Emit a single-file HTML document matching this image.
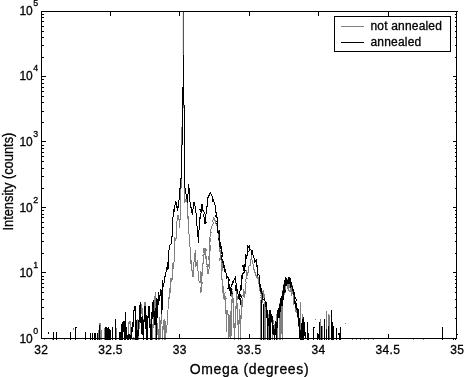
<!DOCTYPE html>
<html><head><meta charset="utf-8"><style>html,body{margin:0;padding:0;background:#fff;overflow:hidden}svg{display:block}</style></head>
<body><svg width="464" height="377" viewBox="0 0 464 377" shape-rendering="crispEdges">
<rect width="464" height="377" fill="#fff"/>
<g><path d="M73.5 328V330M99.5 323V340M100.5 323V340M98.5 330V340M101.5 330V340M104.5 328V340M116.5 328V340M300.5 301.5V340M302.8 314.4V340M315.7 319V320M320.5 319V340M322.3 326V340M326.2 310.5V340M328.1 313.8V340M329.5 315V340M345 323V324M352.5 338V340M356.5 338V340M360.5 338V340M364.5 338V340M368.5 338V340M373.5 338V340M413.5 338V340M423.5 338V340M44.5 338V340M52.5 338V340M64.5 338V340M260.5 300V340M264.5 302V340M265.8 306V340M268.6 315V340M272.3 321V340M277.3 318V340M279.3 308V340M282 296V340" fill="none" stroke="#808080" stroke-width="1"/><polyline points="127.5,339.5 127.7,339.5 127.9,339.5 128.1,333.4 128.3,329.31 128.5,326.72 128.7,328.49 128.9,323.73 129.1,320.89 129.3,324.2 129.5,322 130,322.4 130.5,322 130.55,325.24 130.6,322.46 130.65,326.82 130.7,328.21 130.75,325.48 130.8,333.21 130.85,334.16 130.9,339.5 130.95,337.01 131,339.5 131.55,337.57 132.1,339.5 132.65,339.5 133.2,339.5 133.75,336.9 134.3,339.5 134.85,339.5 135.4,339.5 135.95,339.5 136.5,339.5 136.56,333.17 136.62,336.17 136.68,333.48 136.73,333.83 136.79,330.73 136.85,331.76 136.91,326.76 136.97,325.94 137.02,325.75 137.08,318.91 137.14,319.38 137.2,319 137.27,319.08 137.33,328.11 137.4,323.47 137.47,327.29 137.53,328.77 137.6,327.66 137.67,325.43 137.73,334.56 137.8,332.03 137.87,336.99 137.93,332.5 138,339.5 138.16,335.14 138.32,339.5 138.48,337.66 138.64,327.91 138.8,326.27 138.95,328.59 139.11,329.37 139.27,326.12 139.43,325 139.59,319.58 139.75,322.76 139.91,322.81 140.07,316.6 140.23,312.06 140.39,312.54 140.55,315.56 140.7,306.53 140.86,309.91 141.02,305.66 141.18,306.7 141.34,304.81 141.5,304 141.61,305.6 141.72,311.61 141.83,309.93 141.94,314.22 142.06,311.35 142.17,311.89 142.28,316.03 142.39,307.94 142.5,318 142.58,319.42 142.65,321.56 142.73,318.91 142.81,325.55 142.88,324.01 142.96,319.85 143.04,328.13 143.12,327.37 143.19,330.28 143.27,332.93 143.35,339.5 143.42,336.77 143.5,339.5 143.54,336.38 143.59,336.09 143.63,327.95 143.67,335.56 143.72,327.07 143.76,330.08 143.8,323.85 143.85,322.76 143.89,322.96 143.93,328.3 143.98,323.16 144.02,317.72 144.07,317.14 144.11,313 144.15,314.81 144.2,311.65 144.24,314 144.28,306.22 144.33,307.75 144.37,304.69 144.41,303.52 144.46,306.27 144.5,302.6 145,302.98 145.5,302.6 145.54,305.89 145.59,309.25 145.63,310.67 145.67,304.64 145.72,311.91 145.76,306.55 145.8,313.18 145.85,320.67 145.89,315.87 145.93,316.88 145.98,320.04 146.02,321.12 146.07,322.69 146.11,321.88 146.15,328.93 146.2,329.89 146.24,328.13 146.28,331.25 146.33,333.82 146.37,336.48 146.41,336.1 146.46,339.5 146.5,339.5 146.62,335.69 146.74,331.74 146.86,331.94 146.98,334.96 147.1,333.31 147.21,329.3 147.33,325.63 147.45,326.73 147.57,329.28 147.69,326.83 147.81,319.19 147.93,319.58 148.05,313.84 148.17,313.26 148.29,315.71 148.4,313.69 148.52,314.99 148.64,314.37 148.76,311.55 148.88,311.48 149,306 149.07,305.88 149.14,305.66 149.21,312.07 149.29,320.13 149.36,314.69 149.43,311.69 149.5,317.39 149.57,322.47 149.64,316.61 149.71,323.65 149.79,320.93 149.86,328.1 149.93,328.17 150,328.25 150.07,334.86 150.14,329.15 150.21,329.85 150.29,339.5 150.36,332.32 150.43,339.5 150.5,339.5 150.56,336.38 150.62,331.89 150.69,333.49 150.75,332.39 150.81,331.1 150.88,328.42 150.94,330.74 151,319.04 151.06,322.84 151.12,322.21 151.19,326.96 151.25,314.02 151.31,317.48 151.38,313.57 151.44,313.51 151.5,314 151.53,317.42 151.56,318.23 151.59,322.82 151.62,318.2 151.66,322.31 151.69,326.52 151.72,327.21 151.75,324.99 151.78,330.88 151.81,326.23 151.84,335.91 151.88,332.46 151.91,333.16 151.94,335.81 151.97,339.5 152,339.5 152.12,339.5 152.23,334.51 152.35,332.3 152.47,333.63 152.58,327.72 152.7,323.71 152.82,329.77 152.93,324.6 153.05,327.58 153.17,319.59 153.28,312.44 153.4,320.45 153.52,318.53 153.63,321.33 153.75,316.58 153.87,314.39 153.98,313.69 154.1,309.3 154.22,309.1 154.33,303.28 154.45,307.36 154.57,301.85 154.68,301.4 154.8,303.3 154.92,302.41 155.03,295.11 155.15,302.61 155.27,293.29 155.38,296.04 155.5,292 155.52,296.39 155.53,295.74 155.55,297.12 155.57,303.52 155.58,302.34 155.6,302.54 155.62,297.26 155.63,302.03 155.65,309.29 155.67,307.92 155.68,306 155.7,308.47 155.72,311.01 155.73,315.52 155.75,316.16 155.77,319.53 155.78,315.62 155.8,322.56 155.82,319.63 155.83,321.77 155.85,329.4 155.87,325.96 155.88,326.85 155.9,328.17 155.92,329.18 155.93,336.54 155.95,337.53 155.97,337.08 155.98,337.02 156,339.5 156.19,339.5 156.38,334.52 156.56,334.48 156.75,332.71 156.94,330.14 157.12,333.2 157.31,331.89 157.5,325 157.62,330.6 157.75,322.51 157.88,335.38 158,333.61 158.12,331.77 158.25,334.68 158.38,339.5 158.5,339.5 158.58,339.5 158.67,337.57 158.75,333.92 158.83,332.11 158.92,333 159,328.73 159.08,324.81 159.17,324.13 159.25,324.08 159.33,324 159.42,328.29 159.5,320 159.54,317.39 159.58,324.43 159.62,324.23 159.67,326.9 159.71,331.56 159.75,332.72 159.79,330.03 159.83,330.33 159.88,329.41 159.92,334.79 159.96,339.5 160,339.5 160.08,335.65 160.17,337 160.25,335.46 160.33,332.97 160.42,333.47 160.5,328.33 160.58,324.62 160.67,322.04 160.75,326.78 160.83,321.36 160.92,319.96 161,321.84 161.08,315.41 161.17,321.53 161.25,316.67 161.33,311.53 161.42,309.65 161.5,310 161.56,314.8 161.61,309.56 161.67,312.74 161.72,316.24 161.78,318.39 161.83,319.38 161.89,322.05 161.94,321.35 162,323.64 162.06,329.35 162.11,329.05 162.17,327.32 162.22,335.37 162.28,325.81 162.33,333.59 162.39,336.89 162.44,339.5 162.5,339.5 162.6,336.74 162.7,333.65 162.8,334.96 162.9,331.02 163,331.42 163.1,319.83 163.2,327.94 163.3,322.83 163.4,326.42 163.5,322 163.6,325.84 163.7,327.39 163.8,325.59 163.9,329.7 164,328.97 164.1,332.24 164.2,332.79 164.3,332.19 164.4,339.5 164.5,339.5 164.54,339.5 164.58,328.83 164.62,336.18 164.67,327.82 164.71,329.8 164.75,327.25 164.79,325.9 164.83,326.72 164.88,323.52 164.92,318.65 164.96,321.48 165,320 165.04,322.59 165.08,328.31 165.12,323.26 165.17,322.43 165.21,326.36 165.25,330.96 165.29,327.85 165.33,329.84 165.38,335.16 165.42,334.97 165.46,337.17 165.5,339.5 165.7,334.51 165.9,332.32 166.1,332.23 166.3,331.14 166.5,330 166.62,327.46 166.73,328.22 166.85,327.03 166.96,325.49 167.08,323.75 167.19,318.11 167.31,315.87 167.42,320.1 167.54,316.19 167.65,314.98 167.77,309.6 167.88,310.9 168,310 168.14,306.56 168.29,304.35 168.43,303.53 168.58,299.41 168.72,302.62 168.87,304.33 169.01,297.18 169.16,298.06 169.3,292.97 169.44,296.74 169.59,298.79 169.73,287.97 169.88,289.46 170.02,292.88 170.17,288.19 170.31,285.9 170.46,277.9 170.6,282.5 171.1,280.22 171.6,281.59 172.1,277 172.24,279.67 172.38,275.65 172.51,270.35 172.65,268.39 172.79,263.36 172.92,263.95 173.06,268.9 173.2,263.9 174,262.5 174.03,260.66 174.07,255.48 174.1,261.96 174.13,251.48 174.17,258.78 174.2,252.53 174.23,253.02 174.27,252.54 174.3,249.78 174.33,251.17 174.37,246.04 174.4,243.61 174.43,241.23 174.47,237.75 174.5,240 175,237.6 175.5,241.09 176,238 176.05,238.4 176.1,238.09 176.15,239.45 176.2,233.31 176.25,231.25 176.3,225.9 176.35,226.57 176.4,225.5 176.62,227.98 176.84,223.08 177.06,220.15 177.28,219.24 177.5,217 178.05,214.74 178.6,219 178.8,219.22 179,220.01 179.2,220.07 179.4,227.4 179.6,227.6 179.67,227.94 179.75,224.12 179.82,223.54 179.9,219.49 179.97,220.56 180.05,219.5 180.12,219.19 180.2,217.59 180.28,214.25 180.35,211.72 180.43,209.1 180.5,207.89 180.58,208.08 180.65,206.42 180.73,204.09 180.8,202.5 180.82,203.12 180.85,200.3 180.87,198.02 180.89,196.28 180.91,195.09 180.94,192.44 180.96,190.94 180.98,190.87 181.01,188.4 181.03,187.23 181.05,187.19 181.07,184.32 181.1,184.22 181.12,181.49 181.14,181.33 181.17,178.9 181.19,175.53 181.21,176.51 181.23,173.84 181.26,170.99 181.28,171.09 181.3,169.61 181.33,167.08 181.35,166.08 181.37,165.37 181.39,164.43 181.42,162.73 181.44,161.26 181.46,159.68 181.49,156.03 181.51,155.58 181.53,154.61 181.55,151.53 181.58,151.91 181.6,150 181.63,148.94 181.65,146.59 181.68,145.27 181.71,143.5 181.74,142.42 181.76,140.89 181.79,139.39 181.82,137.45 181.85,136.52 181.87,134.71 181.9,133.7 181.93,131.94 181.95,129.76 181.98,128.27 182.01,127.3 182.04,125.59 182.06,124.4 182.09,122.99 182.12,121.22 182.15,119.18 182.17,117.83 182.2,116.83 182.23,114.86 182.25,113.94 182.28,112.1 182.31,110.74 182.34,108.87 182.36,107.55 182.39,105.35 182.42,104.5 182.45,103.16 182.47,101.32 182.5,100 182.57,98.32 182.65,96.99 182.72,95.51 182.8,93.84 182.88,92.63 182.95,90.7 183.03,89.7 183.1,88 183.11,86.26 183.12,84.86 183.14,83.71 183.15,81.84 183.16,80.25 183.17,79.01 183.19,77.37 183.2,75.84 183.21,74.4 183.22,72.9 183.24,71.37 183.25,69.87 183.26,68.7 183.28,66.92 183.29,65.61 183.3,63.84 183.31,62.56 183.32,60.86 183.34,59.45 183.35,58.07 183.36,56.45 183.38,54.81 183.39,53.45 183.4,51.99 183.41,50.55 183.43,48.91 183.44,47.47 183.45,46.01 183.46,44.37 183.47,42.99 183.49,41.44 183.5,40 183.5,38.53 183.5,36.99 183.5,35.49 183.5,33.84 183.5,32.49 183.5,30.98 183.5,29.44 183.5,27.97 183.5,26.43 183.5,25.01 183.5,23.54 183.5,22.03 183.5,20.47 183.5,19.09 183.5,17.54 183.5,15.95 183.5,14.49 183.5,12.92 183.5,11.5 183.5,12.99 183.5,14.53 183.5,16.06 183.5,17.48 183.5,18.91 183.5,20.49 183.5,22.07 183.5,23.51 183.5,25.07 183.5,26.55 183.5,28.09 183.5,29.54 183.5,30.96 183.5,32.53 183.5,34.17 183.5,35.46 183.5,36.87 183.5,38.65 183.5,40 183.51,41.53 183.52,42.95 183.53,44.45 183.54,45.87 183.55,47.56 183.56,49.01 183.57,50.44 183.58,51.96 183.59,53.46 183.6,55.1 183.61,56.48 183.62,58.14 183.63,59.41 183.64,60.93 183.65,62.45 183.66,63.94 183.67,65.49 183.68,67.12 183.69,68.65 183.7,69.86 183.71,71.67 183.72,73.01 183.73,74.72 183.74,75.98 183.75,77.38 183.76,79.12 183.77,80.6 183.78,81.93 183.79,83.5 183.8,85.02 183.81,86.55 183.82,87.7 183.83,89.28 183.84,91.01 183.85,92.55 183.86,93.9 183.87,95.15 183.88,97.27 183.89,98.44 183.9,100 183.92,101.28 183.94,103.39 183.96,104.81 183.98,106.31 184.01,107.78 184.03,109.23 184.05,110.35 184.07,112.13 184.09,113.73 184.11,115.33 184.13,116.8 184.15,117.88 184.18,119.51 184.2,121.11 184.22,122.66 184.24,123.95 184.26,125.14 184.28,126.85 184.3,128.9 184.32,130.3 184.35,132.04 184.37,132.6 184.39,134.68 184.41,136.73 184.43,137.06 184.45,138.93 184.47,140.17 184.49,142.97 184.52,143.95 184.54,145.18 184.56,147.04 184.58,148.44 184.6,150 184.61,151.98 184.62,153.64 184.63,155.01 184.65,156.2 184.66,157.95 184.67,159.49 184.68,161.23 184.69,160.82 184.7,163.73 184.71,165.05 184.73,166.61 184.74,167.82 184.75,169.45 184.76,171.37 184.77,172.65 184.78,174.1 184.79,174.63 184.81,175.95 184.82,177.86 184.83,178.43 184.84,181.03 184.85,182.21 184.86,182.79 184.87,184.1 184.89,187.03 184.9,188.4 184.91,192.8 184.92,192.94 184.93,192.63 184.94,194.43 184.95,195.31 184.97,197.05 184.98,199.07 184.99,200.94 185,202.5 185.38,200.08 185.75,200.26 186.12,198.4 186.5,196 186.6,199.95 186.7,197.58 186.8,201.66 186.9,201.91 187,201.84 187.1,205.18 187.2,204.87 187.3,208.76 187.4,214.51 187.5,212 187.67,215.74 187.83,218.32 188,219.02 188.17,215.98 188.33,221.07 188.5,222 188.6,223.83 188.7,225.97 188.8,224.61 188.9,224.17 189,234.26 189.1,233.97 189.2,233.62 189.3,234.5 189.39,234.89 189.48,238.04 189.57,236.06 189.66,243.16 189.75,242.68 189.84,243.39 189.93,244.15 190.02,246.71 190.11,248.84 190.2,250 190.32,250.29 190.45,255.89 190.57,255.13 190.7,255.72 190.82,254.91 190.95,262.65 191.07,264.39 191.2,262 191.4,265.67 191.6,259.67 191.8,265.75 192,271.38 192.2,270 192.4,271.61 192.6,276.83 192.8,273.18 193,276 193.11,276.83 193.22,274.46 193.33,263.99 193.44,268.56 193.56,267.51 193.67,264.79 193.78,262.43 193.89,268.32 194,262 194.25,259.87 194.5,260.82 194.75,252.66 195,254.9 195.14,250.25 195.29,256.65 195.43,260.88 195.57,259.07 195.71,264.42 195.86,266.82 196,266 196.4,262.99 196.8,262.49 197.2,261 197.32,260.34 197.43,267.34 197.55,270.96 197.67,268.69 197.78,267.23 197.9,268.18 198.02,271.01 198.13,276.07 198.25,272.68 198.37,280.94 198.48,274.38 198.6,279.6 199.3,282.5 199.8,281.23 200.3,280 201.57,285.51 201.18,281.9 201.6,292.27 201.27,279.67 201.3,287.8 200.69,293.31 200.23,287.3 201.07,287.71 202.21,283.75 200.9,271.36 200.93,279.08 201.37,276.41 201.72,278.88 202.5,270.49 202.12,275.29 202.3,270 202.75,269.34 201.89,265.52 202.54,267.1 203.41,259.89 203.13,263.8 203.07,258.74 203.64,261.33 203.5,258 203.04,253.81 203.78,255.59 203.06,255.4 204.89,253.9 204,252.25 204,247.7 203.73,251.53 205,250 206.66,250.42 205.16,248.6 205.88,257.72 206.7,257 206.18,256.8 206.63,265.05 206.06,260.67 207.29,265.31 208.4,266 206.88,266.46 207.8,264.46 207.9,269 207.63,274.36 208.8,271.8 208.79,269.53 208.41,270.72 209.49,268.15 209.03,265.58 209.51,266.02 208.59,266.41 209.17,264.8 209.05,256.17 209.33,254.35 208.18,259.63 209.6,255 210.12,249.92 210.2,251.03 209.75,246.42 209.33,241.16 210.63,249.46 209.93,250.37 209.79,241.87 210.89,237.64 209.59,244.24 209.39,244.27 209.77,239.5 210.56,232.46 211.1,232.38 210.5,231.5 210.5,232 210.91,229.15 211.66,227.03 211.5,226.5 211.88,226.1 213.36,223.1 212.26,220.48 212.85,221.56 213.2,218.6 213.76,216.9 214.5,221 214.55,220.3 215.8,221 215.62,223.03 216.12,223.85 217.3,226 217.53,231.13 218.27,230.8 218.5,231.8 218.59,235.03 218.93,236.83 219.23,230.88 219.79,235.18 219.4,240 219.26,242.14 218.29,236.4 219.43,241.48 220.93,242.39 219.78,249.19 219.71,246.48 220,251 219.89,251.86 220.8,253.91 220.61,250.43 219.81,260.59 220.56,258.29 221.51,257 221.1,262 221.84,262.52 221.05,266.23 221.05,267.36 222.18,263.08 222.08,270.6 222.07,265.57 221.5,272.5 221.64,276.56 221.89,269.3 221.88,275.25 221.62,279 222.34,280.02 222.5,282 222.61,288.23 222.14,292.75 223.77,287.14 223.2,289.4 223.71,286.2 223.12,293.61 224.56,293.22 223.94,294.11 224.64,298.27 223.17,292.28 224.2,300 224.43,293.98 225,296 225.66,299.38 226.23,298.22 225.48,300.4 225.64,304.23 225.8,303.7 225.84,302.97 225.88,309.29 225.92,306.18 225.96,313.37 226.01,314.02 226.05,318.59 226.09,313.25 226.13,312.59 226.17,320.11 226.21,320.12 226.25,319.13 226.29,318.25 226.34,326.21 226.38,319.51 226.42,325.51 226.46,331.66 226.5,330 226.54,327.7 226.58,328.3 226.62,326.86 226.65,325.63 226.69,325.48 226.73,322.73 226.77,318.11 226.81,314 226.85,315.3 226.88,312.64 226.92,314.29 226.96,315.23 227,310 227.5,314.5 228,314.3 228.07,313.72 228.13,317.93 228.2,318.86 228.27,318.94 228.33,325.77 228.4,325.22 228.47,325.98 228.53,322.74 228.6,320.04 228.67,327.23 228.73,334.37 228.8,331.82 228.87,333.9 228.93,334.7 229,337 229.07,336.87 229.14,333.83 229.21,337.43 229.29,330.35 229.36,328.35 229.43,331.83 229.5,328.25 229.57,326.52 229.64,324.44 229.71,321.17 229.79,320.67 229.86,319.75 229.93,316.89 230,315 230.07,310.93 230.14,322.27 230.21,318.27 230.29,319.58 230.36,321.83 230.43,322.26 230.5,323.37 230.57,327.32 230.64,331.8 230.71,329.83 230.79,333.7 230.86,329.8 230.93,337.69 231,337 231.04,332.05 231.08,336.02 231.12,330.15 231.17,329.03 231.21,325.52 231.25,323.94 231.29,325.54 231.33,321.74 231.38,322.46 231.42,324.99 231.46,317.51 231.5,317.55 231.54,316.65 231.58,313.56 231.62,313.78 231.67,313.03 231.71,313.92 231.75,307.07 231.79,307.06 231.83,305.68 231.88,308.28 231.92,300.08 231.96,302.05 232,300 232.49,300.63 231.66,294.51 232.1,289.41 231.66,292.52 232.7,291.6 232.86,295.66 232.52,293.95 232.73,297.62 232.68,299.25 232.06,302.44 233.1,297.58 233.17,307.73 233.23,307 233.3,310.32 233.37,304.56 233.43,310.65 233.5,310 233.56,314.5 233.61,315.74 233.67,313.95 233.72,320.41 233.78,318.75 233.83,315.11 233.89,327.89 233.94,322.38 234,327.27 234.06,322.92 234.11,323.7 234.17,330.65 234.22,331.97 234.28,328.77 234.33,333.24 234.39,330.01 234.44,329.33 234.5,337 234.57,339.5 234.65,330.44 234.72,334.54 234.8,333.95 234.88,330.3 234.95,332.18 235.03,327.15 235.1,325.38 235.17,322.94 235.25,322.64 235.32,320.87 235.4,315.44 235.47,316.54 235.55,314 235.62,322.09 235.7,312 235.83,314.08 235.96,306.43 236.09,308.99 236.22,300.34 236.35,304.17 236.48,307.85 236.61,301.05 236.52,303.05 237.09,298.97 237,296 236.57,290.93 236.61,304.72 237.17,304.17 237.22,307.23 237.28,303.46 237.33,308.12 237.39,307.73 237.44,306.36 237.5,311.42 237.56,312.49 237.61,309.74 237.67,312.89 237.72,311.7 237.78,316.25 237.83,318.66 237.89,317.36 237.94,316.22 238,325.35 238.06,328.65 238.11,323.64 238.17,328.1 238.22,327.4 238.28,323.02 238.33,339.5 238.39,334.83 238.44,331.26 238.5,337 238.56,339.5 238.61,336.17 238.67,336.74 238.72,333.2 238.78,331.09 238.83,332.31 238.89,325.68 238.94,325.72 239,320.24 239.06,318.56 239.11,321.13 239.17,319.7 239.22,312.74 239.28,317.12 239.33,317.53 239.39,309.23 239.44,310.48 239.5,310 239.56,316.64 239.61,310.45 239.67,316.21 239.72,318.36 239.78,318.04 239.83,319.44 239.89,322.2 239.94,322.86 240,323.95 240.06,320.57 240.11,327.23 240.17,325.64 240.22,333.99 240.28,337.65 240.33,335.84 240.39,327.55 240.44,339.5 240.5,337 240.54,335.86 240.58,330.73 240.62,328.85 240.66,334.18 240.69,327.56 240.73,327.76 240.77,326.7 240.81,327.83 240.85,315.47 240.89,325.69 240.93,318.07 240.97,317.78 241.01,319.35 241.04,317.1 241.08,307.56 241.12,314.81 241.16,311.04 241.2,310 241.37,305.32 241.54,304.99 241.71,300.46 241.88,306.01 242.05,306.51 242.22,298.6 241.51,297.5 241.94,295.2 243.77,295.81 243.48,297.31 243.56,289.65 242.7,288.83 243.4,289.4 243.89,292.9 244.5,292 244.8,297.87 245.31,287.92 245.45,283.78 245.15,290.36 246.08,282.55 245.82,279.15 245.95,279.35 246.32,276.99 247.19,279.45 246.58,275.09 246.5,274.6 246.53,270.01 247.5,276 246.88,275.13 247.36,272.34 248.46,272.44 248.69,267.91 248.57,266 248.7,266 249.56,265.99 250.77,264.63 250.18,259.34 250.8,259.7 251.85,255.28 251.49,258.48 252.62,261.39 252.9,264 253.15,264.85 253.54,267.63 253.57,269.03 253.85,269.15 255,272.5 256.09,276.64 256.3,277.64 256.98,275.41 257.2,278.8 256,275.67 258.7,278.26 259.03,284.08 259.01,282.72 259.29,291.15 259.65,288.74 259.3,289.4 260.96,286.33 260.5,286 260.16,284.09 260.26,289.18 261.24,295.93 261.95,290.02 260.83,297.85 261.88,300.02 260.94,295.38 262.08,299.38 261.5,300 262.78,303.11 261.19,295.35 263.55,290.14 263.73,296.77 263.4,292 263.73,293.59 264.24,296.66 263.66,297.04 264.61,294.29 264.8,300 265.03,301.19 265.27,307.59 265.5,301.8 265.73,300.71 265.97,302.44 266.2,310 266.8,311.56 267.4,318.36 268,315 268.5,314.72 269,314.4 269.5,318.39 270,318 270.6,323.29 271.2,322.59 271.8,320 272.4,323.3 273,324.13 273.6,322 273.88,322.73 274.16,325.46 274.44,328.04 274.72,333.84 275,330 275.23,321.72 275.47,325.03 275.7,326.12 275.93,322.6 276.17,321.28 276.4,320 276.67,317.54 276.93,313.8 277.2,316.51 277.47,317.22 277.73,310.59 278,310 278.5,310.07 279,310.83 279.5,304.28 280,305 280.05,306.25 280.1,304.14 280.14,314.31 280.19,316.26 280.24,312.02 280.29,320.14 280.33,318.24 280.38,311.7 280.43,320.18 280.48,320.99 280.52,323.28 280.57,325.33 280.62,323.45 280.67,329.74 280.71,328.8 280.76,335.07 280.81,330.57 280.86,324.91 280.9,339.5 280.95,337.14 281,337 281.02,329.94 281.05,332.09 281.07,329.99 281.1,333.64 281.12,327.4 281.15,331.24 281.18,324.69 281.2,327.55 281.23,321.29 281.25,318 281.28,321.82 281.3,317.8 281.32,318.51 281.35,310.46 281.38,310.76 281.4,311.29 281.43,316.7 281.45,310.45 281.48,302.66 281.5,296.72 281.53,310.2 281.55,304.08 281.58,297.74 281.6,300 281.72,304.63 281.83,305.9 281.95,311.44 282.07,307.25 282.18,306.84 282.3,310 282.35,310.92 282.41,302.87 282.46,304.04 282.52,300.85 282.57,300.59 282.62,296.91 282.01,294.88 282.75,298.86 283.07,295.92 283.13,296.87 283.06,299.3 282.65,292.69 283,290 284.06,294.76 283.89,284.09 283.81,291.2 283.8,296 283.12,294.7 283.8,288.82 283.29,299.21 283.94,288.56 284.86,287.42 284.24,292.84 284.15,286.35 284.39,288.28 284.5,282 284.54,285.66 284.78,288.58 286.13,284.27 285.24,282.56 285.3,290 284.92,287.36 285.85,293.13 285.28,284.05 285.98,284.73 285.76,281.42 286.46,285.15 286.5,279 285.91,280.04 287.26,279.87 287.37,281.54 287.38,285.06 287.3,287 287.21,286.55 287.61,283.21 289.27,284.47 288,281 287.35,285.12 288.2,290.66 288.47,283.42 288.69,286.83 288.65,288.41 288.8,290 290,292.04 290.11,286.77 290.06,287.52 289.64,283.76 289.7,281.2 289.24,285.14 289.25,284.46 290.17,288.57 289.96,289.16 290.85,286.61 290.26,289.16 290.5,292 290.98,290.36 290.28,288.68 291.71,283.6 291.3,285 291.26,285.63 292.06,285.49 291.28,291.12 292.78,286.12 291.1,291.17 291.22,292.95 292,296 291.92,294.48 292.91,289.44 291.64,288.94 293,290 292.78,292.58 292.22,289.85 292.97,292.56 293.14,294.77 294.19,301.58 294.01,300.28 293.78,299.52 293.89,298.08 294,304 294.5,303.75 295,300.3 295.14,306.1 295.29,301.55 295.43,303.24 295.57,304.89 295.71,304.69 295.86,311.98 296,312 296.27,306.98 296.53,312.6 296.8,306.7 296.91,313.31 297.03,310.19 297.14,311.41 297.26,310.59 297.37,317.49 297.49,316.64 297.6,318 297.8,311.86 298,311.86 298.2,313 298.3,315.91 298.4,314.51 298.5,318.82 298.6,319.74 298.7,324.81 298.8,321.7 298.9,326.68 299,325 299.43,326.45 299.87,325.24 300.3,319.4 300.44,319.88 300.59,323.27 300.73,331.58 300.87,324.87 301.01,325.16 301.16,328.85 301.3,330 301.6,324.89 301.9,324.29 302.2,323.99 302.5,323.7 302.62,324.51 302.75,330.04 302.88,325.4 303,329.8 303.12,332.8 303.25,332.8 303.38,337.56 303.5,337" fill="none" stroke="#808080" stroke-width="1"/><path d="M183.5 12V55" stroke="#555" stroke-width="1"/><path d="M182.5 12V55" stroke="#e4e4e4" stroke-width="1"/><path d="M48.5 332V333.5M53.5 332V340M56.5 332V340M70.5 332V340M75.5 327V340M76.5 327V328M85.5 332V340M90.5 333V340M92.5 333V340M94.5 333V340M95.5 333V340M97.5 333V340M99.5 325V340M105.5 327V340M106.5 327V340M107.5 328V340M108.5 327V340M109.5 329V340M110.5 330V340M112.5 327V340M115.5 319V340M119.5 332V340M120.5 332V340M307.5 322V340M308.5 332.5V340M313.5 327V340M314.5 327V328M317.5 332.5V340M319.5 322V340M321.5 326V340M324.8 319V340M326.7 328.6V340M328.6 326V340M331.5 310V340M332.5 322V340M333.5 326V340M336.5 328V340M338.5 333V335M339.5 332.5V340M340.5 327V340M442.5 327V340M453.5 338V340M455.5 338V340M457.5 334V335M267.5 312V340M269.3 313V340M261.2 300V340M263.8 304V340M270.8 318V340" fill="none" stroke="#000" stroke-width="1"/><polyline points="121.5,339.5 121.5,339.5 121.5,332.73 121.5,334.26 121.5,331.87 121.5,332.29 121.5,323.94 121.5,326.5 121.64,326.9 121.79,327.53 121.93,328.2 122.07,330.54 122.21,333.18 122.36,335.5 122.5,339.5 122.6,333.68 122.7,336.07 122.8,331.56 122.9,322.01 123,333.57 123.1,327.22 123.2,324.57 123.3,326.01 123.4,324.29 123.5,322 124,322.16 124.5,322 124.53,321.04 124.56,325.77 124.59,322.19 124.62,332.73 124.65,326.2 124.68,330.98 124.71,333.26 124.74,335.46 124.77,335.66 124.8,339.5 124.84,339.5 124.89,324.1 124.93,332.8 124.97,331.13 125.02,328.81 125.06,333.2 125.11,324.18 125.15,325.36 125.19,318 125.24,323.43 125.28,316.22 125.33,314.88 125.37,325.21 125.41,318.73 125.46,315.08 125.5,314 125.53,315.62 125.56,312.25 125.59,314.92 125.62,320.89 125.66,314.69 125.69,323.43 125.72,318.84 125.75,325.97 125.78,323.73 125.81,333.93 125.84,333.19 125.88,330.03 125.91,327.35 125.94,332.22 125.97,335.93 126,339.5 126.08,332.92 126.17,335.14 126.25,335.62 126.33,330.77 126.42,327.95 126.5,328 126.62,331.65 126.73,330.04 126.85,335.19 126.97,333.3 127.08,339.5 127.2,339.5 127.75,336.76 128.3,334.38 128.85,339.5 129.4,335.68 129.95,334.75 130.5,339.5 131,336.72 131.5,337 131.69,337.4 131.88,327.02 132.06,331.98 132.25,330.15 132.44,328.67 132.62,330.07 132.81,322.14 133,325 133.1,325.14 133.2,320.93 133.3,320.47 133.4,317.96 133.5,316.13 133.6,314.04 133.7,315.4 133.8,319.06 133.9,314.36 134,310 134.5,310.26 135,306 135.35,309.37 135.7,310 135.72,309.77 135.73,314.63 135.75,320.66 135.77,312 135.78,320 135.8,322.12 135.82,321.46 135.83,324.56 135.85,327.95 135.87,332.03 135.88,330.82 135.9,333.46 135.92,330.99 135.93,334.06 135.95,333.64 135.97,335.57 135.98,334.83 136,339.5 136.04,339.5 136.08,339.5 136.12,332.83 136.17,332.59 136.21,332.22 136.25,328.89 136.29,330.18 136.33,326.62 136.38,320.8 136.42,319.73 136.46,323.56 136.5,320 136.57,323.28 136.63,326.21 136.7,325.13 136.77,326.49 136.83,322.6 136.9,333.11 136.97,327.59 137.03,335.04 137.1,329.93 137.17,332.89 137.23,336.87 137.3,339.5 137.54,335.01 137.78,332.58 138.02,335.82 138.26,333.56 138.5,330 138.58,329.61 138.66,325.89 138.74,322.92 138.82,322.47 138.91,320.84 138.99,320.84 139.07,321.75 139.15,317.42 139.23,314.04 139.31,313.06 139.39,317.31 139.48,312.43 139.56,311.15 139.64,309.79 139.72,309.24 139.8,306 140.25,306.37 140.7,306 140.74,311.07 140.79,311.52 140.83,302.09 140.88,311.78 140.92,322.64 140.97,311.44 141.01,317.25 141.06,321.68 141.1,319.98 141.14,325.57 141.19,319.28 141.23,320.88 141.28,325.64 141.32,325.54 141.37,326.09 141.41,332.59 141.46,333.25 141.5,334 141.6,332.42 141.7,329.58 141.8,329.99 141.9,327.23 142,323.8 142.1,325.94 142.2,323.91 142.3,321.44 142.4,321.69 142.5,318 142.56,316.21 142.62,320.64 142.68,321.04 142.75,328.15 142.81,327.22 142.87,333.58 142.93,333.49 142.99,329.19 143.05,328.56 143.12,334.84 143.18,334.07 143.24,335.99 143.3,339.5 143.36,333.26 143.42,336.7 143.48,333.91 143.54,333.01 143.6,331.18 143.66,325.99 143.72,320.43 143.78,324.79 143.84,322.14 143.9,320.91 143.96,323.83 144.02,319.1 144.08,322.38 144.14,316.84 144.2,316.81 144.26,314.72 144.32,314.07 144.38,306.32 144.44,311.82 144.5,307 145,307.32 145.5,307 145.54,305.62 145.58,311.94 145.62,312.69 145.66,317.06 145.7,316.94 145.74,317.4 145.78,312.95 145.82,324.43 145.86,325.41 145.9,324.83 145.94,325.43 145.98,329.25 146.02,324.55 146.06,330.8 146.1,330.32 146.14,328.79 146.18,334.45 146.22,335.96 146.26,339.5 146.3,339.5 146.33,339.5 146.36,330.12 146.39,327.51 146.41,331.62 146.44,329.69 146.47,325.98 146.5,322.88 146.53,325.13 146.56,320.71 146.59,320.57 146.61,323.69 146.64,320.29 146.67,315.77 146.7,316.5 146.74,314.66 146.79,319.01 146.83,326.31 146.87,321.12 146.91,329.37 146.96,323.35 147,326.62 147.04,330.87 147.09,328 147.13,332.02 147.17,329.33 147.21,336.91 147.26,339.5 147.3,339.5 147.36,334.53 147.41,335.51 147.47,332.2 147.53,325.43 147.59,339.5 147.64,330.74 147.7,329.81 147.76,326.97 147.81,324.8 147.87,329.87 147.93,315.76 147.99,318.77 148.04,316.93 148.1,316.04 148.16,317.23 148.21,311.45 148.27,308.11 148.33,307.18 148.39,310.42 148.44,310.38 148.5,306 149,308.42 149.5,306 149.54,312.29 149.59,307.44 149.63,313.48 149.68,314.05 149.72,313 149.76,312.74 149.81,319.13 149.85,315.95 149.89,318.62 149.94,318.08 149.98,327.74 150.02,323.84 150.07,324 150.11,326.25 150.16,327.82 150.2,330 150.36,331.86 150.52,328.08 150.68,331.31 150.84,339.5 151,339.5 151.07,339.5 151.14,331.87 151.2,333.7 151.27,330.09 151.34,323.44 151.41,327.79 151.48,323.92 151.55,328.25 151.61,323.45 151.68,322.42 151.75,316.6 151.82,319.88 151.89,312.06 151.95,317.02 152.02,318.95 152.09,309.63 152.16,314.28 152.23,314.4 152.3,308.03 152.36,310.44 152.43,305.79 152.5,304 153,302.51 153.5,304 153.58,299.55 153.67,303.92 153.75,304.28 153.83,317.48 153.92,312.69 154,312.97 154.08,311.02 154.17,321.83 154.25,314.76 154.33,324.29 154.42,324.67 154.5,323 154.61,321.6 154.72,317.79 154.83,318.02 154.94,312.57 155.06,316.89 155.17,318.39 155.28,314.4 155.39,313.26 155.5,308.5 155.55,307.95 155.61,312.52 155.66,310.08 155.71,313.35 155.76,318.45 155.82,325.33 155.87,319.58 155.92,321.02 155.97,316.78 156.03,324.55 156.08,322.84 156.13,322.91 156.18,324.21 156.24,330.66 156.29,330.59 156.34,335.38 156.39,334.19 156.45,336.43 156.5,339.5 156.51,339.5 156.52,337.38 156.54,335.74 156.55,336.35 156.56,331.05 156.57,325.9 156.58,324.96 156.6,321.14 156.61,325.38 156.62,321.58 156.63,322.82 156.64,322.27 156.66,315.79 156.67,317.27 156.68,319.02 156.69,313.93 156.7,314.96 156.72,310.05 156.73,306.26 156.74,306.9 156.75,300.4 156.76,306.69 156.78,301.48 156.79,305.57 156.8,300 156.86,297.79 156.92,303.38 156.98,305.53 157.03,305.39 157.09,308.65 157.15,306.72 157.21,307.26 157.27,307.75 157.32,311.79 157.38,312.54 157.44,317.21 157.5,318 157.54,315.32 157.59,312.88 157.63,311.09 157.68,306 157.72,309.07 157.76,309.88 157.81,303.03 157.85,304.72 157.89,305.98 157.94,300.27 157.98,301.39 158.02,297.95 158.07,305.12 158.11,300.35 158.16,298.15 158.2,293 158.52,292.68 158.85,298.47 159.18,297.75 159.5,300 159.75,299.59 160,295.25 160.25,295.98 160.5,294 160.85,289.67 161.2,290 161.24,292.39 161.27,298.34 161.31,290.34 161.35,292 161.39,299.03 161.43,301.41 161.46,299.36 161.5,303.79 161.54,304.79 161.57,306.68 161.61,310.7 161.65,306.02 161.69,311.51 161.73,311.61 161.76,310.4 161.8,314 161.84,314.03 161.89,307.04 161.93,304.97 161.98,311.28 162.02,303.13 162.06,310.15 162.11,306.67 162.15,300.41 162.19,297.81 162.24,292.2 162.28,297.27 162.32,291 162.37,299.29 162.41,287.86 162.46,291.69 162.5,290 162.83,279.99 163.17,285.58 163.5,285 163.82,287.42 164.15,280.38 164.48,277.6 164.8,278.5 165.1,275.4 165.4,276.39 165.7,276.33 166,272 166.4,269.16 166.8,267.8 167.5,270 167.65,262.19 167.8,267.88 167.95,268.39 168.1,263.9 168.2,269.42 168.3,261.37 168.4,259.87 168.5,256.17 168.6,258.61 168.7,260.22 168.8,253.3 169.13,248.67 169.47,250.43 169.8,245.5 170.13,245.07 170.47,245.01 170.8,244 171.3,243.31 171.8,240 172,235.9 172.2,236 172.25,233.79 172.3,236.11 172.35,232.61 172.4,231.5 172.45,229.33 172.5,226.6 172.55,226.33 172.6,225.01 172.65,222.49 172.7,221 172.8,221.29 172.9,217.9 173,217.88 173.1,214.83 173.2,214.42 173.3,211.7 173.8,210.09 174.3,210.6 174.48,208.15 174.67,205.7 174.85,207.5 175.03,204.9 175.22,202.88 175.4,201 175.77,203.35 176.13,202.92 176.5,205.6 176.83,207.4 177.17,208.16 177.5,210.6 177.95,206.48 178.4,208 178.54,206.01 178.68,203.58 178.82,205.13 178.96,200.61 179.1,200 179.18,197.58 179.26,197.9 179.34,195.06 179.42,191.91 179.5,191.8 179.78,190.46 180.05,187.85 180.32,188.81 180.6,185.5 180.69,182.92 180.78,181.7 180.87,178.34 180.96,178.7 181.05,179.37 181.14,176.09 181.23,173.86 181.32,173.33 181.41,171.32 181.5,170 181.53,168.45 181.56,168.75 181.59,166.86 181.62,165.02 181.65,163.52 181.68,160.31 181.71,158.16 181.74,158.33 181.77,156.6 181.8,154.87 181.83,153.26 181.86,152.21 181.89,150.6 181.92,148.92 181.95,147.52 181.98,145.66 182.02,144.06 182.05,143.38 182.08,141.1 182.11,140.58 182.14,138.46 182.17,136.69 182.2,135.61 182.23,133.44 182.26,132.05 182.29,130.48 182.32,129.09 182.35,127.82 182.38,126.79 182.41,124.72 182.44,122.68 182.47,121.25 182.5,120 182.5,117.92 182.5,117.17 182.5,115.68 182.5,114 182.5,112.48 182.5,111 182.5,109.44 182.5,107.97 182.5,106.34 182.5,104.53 182.5,103.46 182.5,102.02 182.5,99.83 182.5,98.62 182.5,96.9 182.5,95.72 182.5,94.04 182.5,92.85 182.5,91.26 182.5,89.44 182.5,88 183,86.92 183.5,86 183.5,84.35 183.5,82.99 183.5,81.2 183.5,79.87 183.5,78.04 183.5,76.85 183.5,75.22 183.5,73.44 183.5,71.94 183.5,70.52 183.5,68.99 183.5,67.04 183.5,65.87 183.5,64.48 183.5,62.7 183.5,61.05 183.5,59.78 183.5,58.12 183.5,56.57 183.5,55 183.5,56.6 183.5,57.95 183.5,59.54 183.5,61.03 183.5,62.56 183.5,64.19 183.5,65.64 183.5,67.51 183.5,68.91 183.5,70.49 183.5,71.7 183.5,73.43 183.5,74.98 183.5,76.56 183.5,78.14 183.5,79.49 183.5,81.01 183.5,82.85 183.5,84.61 183.5,86.12 183.5,87.26 183.5,88.7 183.5,90.42 183.5,92.01 183.5,93.81 183.5,95 183.58,96.49 183.65,97.92 183.73,99.84 183.81,100.99 183.88,102.49 183.96,104.36 184.04,105.72 184.12,107.04 184.19,108.78 184.27,110.27 184.35,111.86 184.42,113.25 184.5,115 184.5,116.69 184.5,117.93 184.5,119.38 184.5,121.42 184.5,122.3 184.5,124.38 184.5,125.85 184.5,127.07 184.5,128.77 184.5,129.66 184.5,131.83 184.5,132.85 184.5,134.43 184.5,136.41 184.5,137.51 184.5,139.4 184.5,141.05 184.5,142.87 184.5,144.1 184.5,145.94 184.5,146.58 184.5,148.29 184.5,150 184.52,151.85 184.54,153.66 184.56,154.77 184.58,155.7 184.6,156.87 184.62,158.43 184.64,161.24 184.66,161.39 184.68,163.38 184.7,165.47 184.72,166.85 184.74,167.53 184.76,171.03 184.78,171.18 184.8,172.78 184.82,174.71 184.84,175.31 184.86,177.66 184.88,178.45 184.9,179.28 184.92,180.71 184.94,183.44 184.96,184.68 184.98,185.93 185,187.6 185.3,188.8 185.6,190.69 185.9,193.52 186.2,195.57 186.5,196 186.78,197.31 187.05,199.57 187.32,198.48 187.6,202.5 187.69,199.47 187.78,198.53 187.88,196.76 187.97,197.15 188.06,192.38 188.15,193.79 188.24,192.45 188.33,192.51 188.42,188.11 188.52,187.54 188.61,186.99 188.7,184 188.81,186.47 188.92,186.16 189.03,188.3 189.14,189 189.26,191.85 189.37,194.1 189.48,196.45 189.59,197.1 189.7,198 189.91,200.74 190.12,202.61 190.34,201.78 190.55,205.42 190.76,207.49 190.97,207.49 191.19,207.95 191.4,211 191.95,212.74 192.5,214 192.71,212.6 192.93,211.76 193.14,206.42 193.36,206.89 193.57,208.6 193.79,205.89 194,202.5 194.43,203.87 194.85,205.24 195.27,206.84 195.7,208.8 195.82,208.93 195.95,211.29 196.07,213.53 196.2,213.22 196.32,216.67 196.45,218.86 196.57,217.7 196.7,220.77 196.82,220.26 196.95,224.88 197.07,226.84 197.2,228 197.31,228.46 197.42,231.26 197.53,233.9 197.64,235.79 197.76,232.62 197.87,236.55 197.98,235.29 198.09,235.6 198.2,242 198.3,243.07 198.4,240.81 198.5,240.44 198.6,237.63 198.7,233.11 198.8,233.2 198.9,230 199,232.51 199.1,223.23 199.2,227.35 199.3,225 199.47,222.28 199.63,222.99 199.8,222.15 199.97,217.23 200.79,218.96 200.3,215 201.65,210.76 199.98,209.71 200.61,211.21 201.27,208.39 202.51,204.9 201.8,204.6 202.27,208.28 202.65,210.07 202.89,209.78 203.5,211 203.48,210.51 204.12,212.64 203.72,216.01 204.47,219.54 204.2,222.14 204.18,219.83 204.72,222.55 205,223.7 206.21,222.22 204.93,222.05 205.31,219.78 205.49,217 206.16,216.08 205.95,216.07 206.08,211.61 206.08,211.05 206.31,207.98 207.31,205.61 206.7,206.7 207.4,206.18 207.33,202.4 207.3,203.78 207.6,199.23 208.48,196.27 207.33,198.05 208.4,196 209.03,195.4 209.67,194.47 210.3,191.8 210.87,193.92 211.43,195.36 212,196 212.66,199.48 212.93,200.99 213.38,200 214.1,202.5 214.64,202.79 214.92,204.93 215.98,208.06 214.97,211.91 215.6,211 215.69,212.25 217.06,213.04 216.03,217.58 215.96,214.72 217.48,218.62 217.59,217.8 216.9,221.6 217.3,220.46 217.02,222.46 217.82,221.5 217.02,227.86 217.79,224.87 217.15,230.84 218.14,233.52 218.4,234 218.17,232.83 219.33,231.08 219.03,240.9 219.4,240 218.9,238.3 219.22,242.36 219.41,245.56 220.83,248.93 220.3,248 220.1,247.75 220.91,242.22 221.2,252.7 221.08,254.14 222.1,253.4 221.77,258.38 222.75,253.15 221.1,259.74 221.65,257.93 222.62,261.03 222.6,263.4 223.2,261.8 223.55,262.05 223.53,267.79 223.4,262.95 225.29,270.93 224.75,269.57 224.8,271.8 225.3,270.3 225.49,269.98 226.4,274.6 226.62,278.14 227.53,276.48 228,276.7 228.33,281.72 228.21,279.66 229.2,279.82 227.84,289.42 228.39,287.67 229.01,284.33 229.17,286.44 229.6,289.4 230.82,289.15 229.5,288.21 230.15,291.83 230.2,295.8 230.4,290.37 231.79,293.07 230.8,293.14 232.15,290.01 230.85,287.85 231.26,284.82 231.7,285.2 231.69,286.73 232.88,281.29 233.5,282 234.3,279.3 235.21,277.72 235.66,280.55 235.9,283 237.06,286.09 235.92,291.35 236.02,283.82 237,289.4 237.73,292.5 237.81,292.79 238.78,299.06 239.04,296.91 239.1,298 239.65,295.58 240.2,302.2 240.27,304.13 240.41,305.21 241.13,296.2 240.52,294.45 240.44,296.2 239.44,294.93 241.1,283.98 240.86,291.29 240.82,286.98 240.18,287.9 240.46,285.79 241.21,289.7 241.67,282.73 241.7,283.17 241.2,278.8 241.89,275.46 242.53,278.64 243,274.6 242.86,273.45 244.23,272.14 242.79,266.48 242.88,264.96 245.12,270.82 244.25,267 244.4,264 245.4,266.52 245.11,254.04 245.29,266.51 245.9,257.6 245.87,253.8 246.32,258.9 247.64,253.77 247.27,251.36 247.6,249.1 247.32,245.06 248.5,247 249.3,245.9 249.03,251.08 250.3,250 250.8,249.1 252.04,253 251.69,254.98 252.3,251.2 252.66,250.31 253.23,258.27 253.2,256 254,257.6 254.45,260.64 253.89,263.56 256.5,258.92 256.1,264 256.95,266.99 256.45,261.51 257.32,267.46 257.8,270.3 257.77,275.53 257.97,274.09 258.92,274.74 259.59,278.34 259.3,278.8 259.98,276.59 259.26,283.19 259.55,287.24 260.47,283.78 260.13,290.59 260.83,292.28 260.8,289.4 261.56,288.79 261.03,292.91 262.52,293.92 262.1,296 262.5,293.7 262.88,296.33 262.72,299.26 264.87,300.37 264.6,300 264.78,298.33 264.95,300.25 265.12,302.72 265.3,307 265.53,304.73 265.77,301.46 266,302 266.1,303.56 266.2,302.26 266.3,307.65 266.4,310.11 266.5,311.35 266.6,309.92 266.7,315.69 266.8,310.22 266.9,314.47 267,318 267.1,316.18 267.2,318.61 267.3,312.07 267.4,313.43 267.5,310 267.6,316.45 267.7,319.06 267.8,319.95 267.9,314.07 268,318.81 268.1,321.11 268.2,323.21 268.3,324.35 268.4,324.07 268.5,326 268.61,324.61 268.72,318.84 268.83,323.49 268.94,320.76 269.06,316.54 269.17,322.01 269.28,315.17 269.39,311.66 269.5,312 270.2,310 270.3,313.28 270.4,314.34 270.5,316.46 270.6,315.76 270.7,319.8 270.8,319.39 270.9,324.1 271,322 271.25,321.5 271.5,316.62 271.75,314.52 272,316 272.06,319.23 272.12,321.8 272.18,316.22 272.23,323.84 272.29,323.33 272.35,325.86 272.41,324.14 272.47,324.74 272.52,327.8 272.58,328.64 272.64,331.3 272.7,334 272.86,332.74 273.02,330.96 273.18,334.82 273.34,324.85 273.5,326 273.62,326.3 273.75,329.45 273.88,332.55 274,329.24 274.12,329.6 274.25,336.17 274.38,339.5 274.5,339.5 274.62,339.5 274.75,337.31 274.88,329.32 275,335.43 275.12,330.36 275.25,335.32 275.38,326.45 275.5,326 275.61,321.24 275.73,328.82 275.84,331.29 275.95,333.23 276.06,334.46 276.17,333.85 276.29,332.06 276.4,339.5 276.47,336.45 276.54,334.44 276.61,331.86 276.68,332.4 276.75,329.75 276.82,323.11 276.88,325.03 276.95,323.45 277.02,323.58 277.09,327.56 277.16,321.07 277.23,321.22 277.3,318 277.48,310.23 277.66,318.4 277.84,311.64 278.02,313.2 278.2,310 278.36,308.44 278.52,313.12 278.68,317.22 278.84,316.35 279,318 279.09,317.13 279.18,312.68 279.27,311.26 279.36,312.6 279.44,309.7 279.53,309.07 279.62,305.18 279.71,304.44 279.8,304 279.94,307.83 280.08,311.37 280.22,307.65 280.36,308.53 280.5,312 280.58,310.83 280.66,311.63 280.73,308.18 280.81,308.99 280.89,303.69 280.97,299.88 281.04,295.59 281.28,302.08 281.2,298 281.61,297.63 281.6,297.63 281.8,305.54 282,304 282.07,305.56 282.15,304.46 283.07,298.23 283.24,300.44 282.93,291.54 282.29,298.88 282.6,296.34 282.6,292 282.7,297.98 282.39,295.52 283.3,297 282.91,301.59 282.95,290.96 283.61,292.79 284.57,292.32 282.9,292.45 283.73,288.57 283.99,288.77 284,285 284.29,290.63 283.85,294.14 284.6,290 285.25,291.81 284.03,284.58 285.13,283.13 284.15,288.23 284.36,280.88 285.2,280 285.5,283.86 286.05,283.15 286.67,285.44 286,286 285.78,283.66 286.23,283 286.14,285.19 286.09,278.35 286.6,278.3 285.69,277.99 287.37,282.54 287.3,284 287.03,282.89 288.08,283.45 288.21,279.85 288,277.4 288.51,279 287.83,282.76 288.8,283 288.62,279.91 287.76,280.87 289.5,278 289.66,280.48 290.06,280.72 290.12,278.46 289.79,282.22 290.3,286 290.46,288.09 291,282 291.15,286.76 291.1,284.36 291.29,282.58 292.47,288.85 291.8,290 292.64,290.75 292.5,287 292.19,285.92 293.06,291.33 293.48,288.72 293.14,291.57 293.1,295 293.89,292.15 293.8,292 294.53,296.1 294.13,292.38 294.16,303.14 294.35,299.42 295.4,298.06 294.5,301 294.46,303.66 295.2,297 296.42,300.13 295.43,301.58 295.54,302.01 295.66,306.23 295.77,307.35 295.89,302.92 296,308 296.35,303.66 296.7,304 296.79,310.25 296.88,305.39 296.96,308.43 297.05,308.15 297.14,317.19 297.22,309.41 297.31,315.08 297.4,316 297.6,313.25 297.8,311.85 298,311 298.09,308.96 298.18,311.7 298.27,314.95 298.36,317.78 298.45,313.12 298.54,320.31 298.63,318.98 298.72,322.89 298.81,323.23 298.9,326 299,324.18 299.1,322.32 299.2,322.91 299.3,320 299.36,321.61 299.41,318.17 299.47,317.61 299.52,322 299.58,328.65 299.63,324.4 299.69,327.92 299.74,337.88 299.8,334 300.15,334.95 300.5,339.5 300.6,335.93 300.7,336.01 300.8,335.4 300.9,330.49 301,330.83 301.1,323.01 301.2,328.47 301.3,326 301.39,329.21 301.48,323.89 301.56,333.2 301.65,337.64 301.74,325.93 301.82,334.39 301.91,339.5 302,339.5 302.09,339.5 302.18,332.83 302.28,331.56 302.37,330.73 302.46,332.32 302.55,326.23 302.65,322.86 302.74,326.07 302.83,321.84 302.92,327.6 303.02,318 303.11,320.34 303.2,318 303.25,318.86 303.29,316.68 303.34,321.08 303.38,318.23 303.43,326.81 303.48,324.37 303.52,325.06 303.57,325.6 303.62,335.98 303.66,334.89 303.71,331.92 303.75,335.94 303.8,339.5 303.89,339.5 303.98,336.68 304.07,333.5 304.16,325.77 304.25,335.51 304.34,328.58 304.43,331.59 304.52,322.16 304.61,326.84 304.7,323 304.75,328.45 304.8,329.41 304.85,323.83 304.9,328.23 304.95,335.09 305,329.54 305.05,335.54 305.1,334.46 305.15,332.03 305.2,339.5" fill="none" stroke="#000" stroke-width="1"/></g><rect x="41" y="11" width="417" height="1" fill="#000"/><rect x="41" y="338" width="416" height="1" fill="#000"/><rect x="41" y="11" width="1" height="328" fill="#000"/><rect x="456" y="11" width="1" height="328" fill="#000"/><rect x="110" y="12" width="1" height="4" fill="#000"/><rect x="110" y="334" width="1" height="4" fill="#000"/><rect x="179" y="12" width="1" height="4" fill="#000"/><rect x="179" y="334" width="1" height="4" fill="#000"/><rect x="249" y="12" width="1" height="4" fill="#000"/><rect x="249" y="334" width="1" height="4" fill="#000"/><rect x="318" y="12" width="1" height="4" fill="#000"/><rect x="318" y="334" width="1" height="4" fill="#000"/><rect x="388" y="12" width="1" height="4" fill="#000"/><rect x="388" y="334" width="1" height="4" fill="#000"/><rect x="42" y="318" width="2" height="1" fill="#000"/><rect x="455" y="318" width="1" height="1" fill="#000"/><rect x="42" y="307" width="2" height="1" fill="#000"/><rect x="455" y="307" width="1" height="1" fill="#000"/><rect x="42" y="299" width="2" height="1" fill="#000"/><rect x="455" y="299" width="1" height="1" fill="#000"/><rect x="42" y="292" width="2" height="1" fill="#000"/><rect x="455" y="292" width="1" height="1" fill="#000"/><rect x="42" y="287" width="2" height="1" fill="#000"/><rect x="455" y="287" width="1" height="1" fill="#000"/><rect x="42" y="283" width="2" height="1" fill="#000"/><rect x="455" y="283" width="1" height="1" fill="#000"/><rect x="42" y="279" width="2" height="1" fill="#000"/><rect x="455" y="279" width="1" height="1" fill="#000"/><rect x="42" y="276" width="2" height="1" fill="#000"/><rect x="455" y="276" width="1" height="1" fill="#000"/><rect x="42" y="272" width="4" height="1" fill="#000"/><rect x="453" y="272" width="3" height="1" fill="#000"/><rect x="42" y="253" width="2" height="1" fill="#000"/><rect x="455" y="253" width="1" height="1" fill="#000"/><rect x="42" y="241" width="2" height="1" fill="#000"/><rect x="455" y="241" width="1" height="1" fill="#000"/><rect x="42" y="233" width="2" height="1" fill="#000"/><rect x="455" y="233" width="1" height="1" fill="#000"/><rect x="42" y="227" width="2" height="1" fill="#000"/><rect x="455" y="227" width="1" height="1" fill="#000"/><rect x="42" y="222" width="2" height="1" fill="#000"/><rect x="455" y="222" width="1" height="1" fill="#000"/><rect x="42" y="217" width="2" height="1" fill="#000"/><rect x="455" y="217" width="1" height="1" fill="#000"/><rect x="42" y="214" width="2" height="1" fill="#000"/><rect x="455" y="214" width="1" height="1" fill="#000"/><rect x="42" y="210" width="2" height="1" fill="#000"/><rect x="455" y="210" width="1" height="1" fill="#000"/><rect x="42" y="207" width="4" height="1" fill="#000"/><rect x="453" y="207" width="3" height="1" fill="#000"/><rect x="42" y="188" width="2" height="1" fill="#000"/><rect x="455" y="188" width="1" height="1" fill="#000"/><rect x="42" y="176" width="2" height="1" fill="#000"/><rect x="455" y="176" width="1" height="1" fill="#000"/><rect x="42" y="168" width="2" height="1" fill="#000"/><rect x="455" y="168" width="1" height="1" fill="#000"/><rect x="42" y="161" width="2" height="1" fill="#000"/><rect x="455" y="161" width="1" height="1" fill="#000"/><rect x="42" y="156" width="2" height="1" fill="#000"/><rect x="455" y="156" width="1" height="1" fill="#000"/><rect x="42" y="152" width="2" height="1" fill="#000"/><rect x="455" y="152" width="1" height="1" fill="#000"/><rect x="42" y="148" width="2" height="1" fill="#000"/><rect x="455" y="148" width="1" height="1" fill="#000"/><rect x="42" y="145" width="2" height="1" fill="#000"/><rect x="455" y="145" width="1" height="1" fill="#000"/><rect x="42" y="141" width="4" height="1" fill="#000"/><rect x="453" y="141" width="3" height="1" fill="#000"/><rect x="42" y="122" width="2" height="1" fill="#000"/><rect x="455" y="122" width="1" height="1" fill="#000"/><rect x="42" y="111" width="2" height="1" fill="#000"/><rect x="455" y="111" width="1" height="1" fill="#000"/><rect x="42" y="102" width="2" height="1" fill="#000"/><rect x="455" y="102" width="1" height="1" fill="#000"/><rect x="42" y="96" width="2" height="1" fill="#000"/><rect x="455" y="96" width="1" height="1" fill="#000"/><rect x="42" y="91" width="2" height="1" fill="#000"/><rect x="455" y="91" width="1" height="1" fill="#000"/><rect x="42" y="87" width="2" height="1" fill="#000"/><rect x="455" y="87" width="1" height="1" fill="#000"/><rect x="42" y="83" width="2" height="1" fill="#000"/><rect x="455" y="83" width="1" height="1" fill="#000"/><rect x="42" y="79" width="2" height="1" fill="#000"/><rect x="455" y="79" width="1" height="1" fill="#000"/><rect x="42" y="76" width="4" height="1" fill="#000"/><rect x="453" y="76" width="3" height="1" fill="#000"/><rect x="42" y="57" width="2" height="1" fill="#000"/><rect x="455" y="57" width="1" height="1" fill="#000"/><rect x="42" y="45" width="2" height="1" fill="#000"/><rect x="455" y="45" width="1" height="1" fill="#000"/><rect x="42" y="37" width="2" height="1" fill="#000"/><rect x="455" y="37" width="1" height="1" fill="#000"/><rect x="42" y="31" width="2" height="1" fill="#000"/><rect x="455" y="31" width="1" height="1" fill="#000"/><rect x="42" y="26" width="2" height="1" fill="#000"/><rect x="455" y="26" width="1" height="1" fill="#000"/><rect x="42" y="21" width="2" height="1" fill="#000"/><rect x="455" y="21" width="1" height="1" fill="#000"/><rect x="42" y="17" width="2" height="1" fill="#000"/><rect x="455" y="17" width="1" height="1" fill="#000"/><rect x="42" y="14" width="2" height="1" fill="#000"/><rect x="455" y="14" width="1" height="1" fill="#000"/>
<rect x="334" y="16" width="117" height="36" fill="#fff"/><rect x="334" y="16" width="117" height="1" fill="#000"/><rect x="334" y="51" width="117" height="1" fill="#000"/><rect x="334" y="16" width="1" height="36" fill="#000"/><rect x="450" y="16" width="1" height="36" fill="#000"/><rect x="341" y="26" width="23" height="1" fill="#808080"/><rect x="341" y="42" width="23" height="1" fill="#000"/><text x="370.5" y="30" stroke="#000" stroke-width="0.3" style="font-family:'Liberation Sans',Arial,sans-serif;font-size:12px;letter-spacing:0.18px">not annealed</text><text x="370.5" y="46" stroke="#000" stroke-width="0.3" style="font-family:'Liberation Sans',Arial,sans-serif;font-size:12px;letter-spacing:0.2px">annealed</text>
<g shape-rendering="auto" fill="#000"><text x="32.8" y="343" text-anchor="end" stroke="#000" stroke-width="0.3" style="font-family:'Liberation Sans',Arial,sans-serif;font-size:12px">10</text><text x="33.2" y="333.8" stroke="#000" stroke-width="0.3" style="font-family:'Liberation Sans',Arial,sans-serif;font-size:8.8px">0</text><text x="32.8" y="277" text-anchor="end" stroke="#000" stroke-width="0.3" style="font-family:'Liberation Sans',Arial,sans-serif;font-size:12px">10</text><text x="33.2" y="267.8" stroke="#000" stroke-width="0.3" style="font-family:'Liberation Sans',Arial,sans-serif;font-size:8.8px">1</text><text x="32.8" y="212" text-anchor="end" stroke="#000" stroke-width="0.3" style="font-family:'Liberation Sans',Arial,sans-serif;font-size:12px">10</text><text x="33.2" y="202.8" stroke="#000" stroke-width="0.3" style="font-family:'Liberation Sans',Arial,sans-serif;font-size:8.8px">2</text><text x="32.8" y="146" text-anchor="end" stroke="#000" stroke-width="0.3" style="font-family:'Liberation Sans',Arial,sans-serif;font-size:12px">10</text><text x="33.2" y="136.8" stroke="#000" stroke-width="0.3" style="font-family:'Liberation Sans',Arial,sans-serif;font-size:8.8px">3</text><text x="32.8" y="80" text-anchor="end" stroke="#000" stroke-width="0.3" style="font-family:'Liberation Sans',Arial,sans-serif;font-size:12px">10</text><text x="33.2" y="70.8" stroke="#000" stroke-width="0.3" style="font-family:'Liberation Sans',Arial,sans-serif;font-size:8.8px">4</text><text x="32.8" y="15" text-anchor="end" stroke="#000" stroke-width="0.3" style="font-family:'Liberation Sans',Arial,sans-serif;font-size:12px">10</text><text x="33.2" y="5.8" stroke="#000" stroke-width="0.3" style="font-family:'Liberation Sans',Arial,sans-serif;font-size:8.8px">5</text><text x="41.17" y="354" text-anchor="middle" stroke="#000" stroke-width="0.3" style="font-family:'Liberation Sans',Arial,sans-serif;font-size:12px;letter-spacing:0.33px">32</text><text x="110.50" y="354" text-anchor="middle" stroke="#000" stroke-width="0.3" style="font-family:'Liberation Sans',Arial,sans-serif;font-size:12px;letter-spacing:0.33px">32.5</text><text x="179.84" y="354" text-anchor="middle" stroke="#000" stroke-width="0.3" style="font-family:'Liberation Sans',Arial,sans-serif;font-size:12px;letter-spacing:0.33px">33</text><text x="249.17" y="354" text-anchor="middle" stroke="#000" stroke-width="0.3" style="font-family:'Liberation Sans',Arial,sans-serif;font-size:12px;letter-spacing:0.33px">33.5</text><text x="318.50" y="354" text-anchor="middle" stroke="#000" stroke-width="0.3" style="font-family:'Liberation Sans',Arial,sans-serif;font-size:12px;letter-spacing:0.33px">34</text><text x="387.84" y="354" text-anchor="middle" stroke="#000" stroke-width="0.3" style="font-family:'Liberation Sans',Arial,sans-serif;font-size:12px;letter-spacing:0.33px">34.5</text><text x="457.17" y="354" text-anchor="middle" stroke="#000" stroke-width="0.3" style="font-family:'Liberation Sans',Arial,sans-serif;font-size:12px;letter-spacing:0.33px">35</text><text x="249.5" y="373.5" text-anchor="middle" stroke="#000" stroke-width="0.3" style="font-family:'Liberation Sans',Arial,sans-serif;font-size:14px;letter-spacing:0.65px">Omega (degrees)</text><text transform="translate(12.5,230.6) rotate(-90) scale(0.92,1)" x="0" y="0" stroke="#000" stroke-width="0.3" style="font-family:'Liberation Sans',Arial,sans-serif;font-size:14px">Intensity (counts)</text></g>
</svg></body></html>
